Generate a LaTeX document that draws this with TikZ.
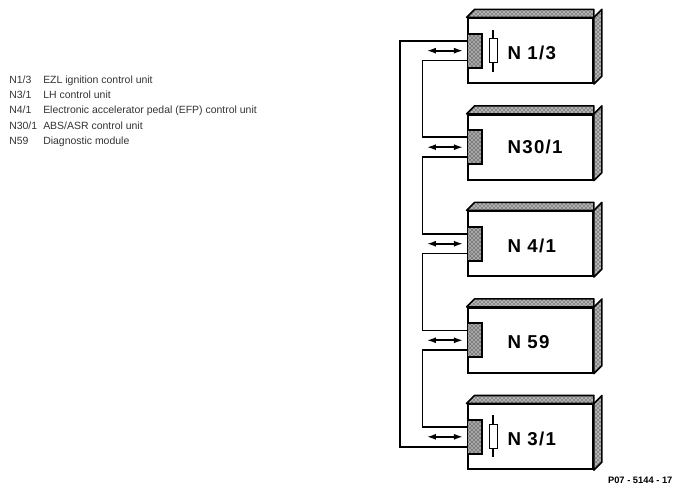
\documentclass[tikz,border=0pt]{standalone}
\usepackage{fontspec}
\setmainfont{Liberation Sans}
\newfontfamily\unitfont[LetterSpace=7]{Liberation Sans}
\usepackage{tikz}
\usetikzlibrary{arrows.meta, positioning, calc, patterns}

\begin{document}
\begin{tikzpicture}[
  unit/.style={draw, line width=1.5pt, minimum width=94pt, minimum height=48.5pt, inner sep=0pt},
  port/.style={draw, line width=1.4pt, minimum width=11pt, minimum height=25.5pt, inner sep=0pt, anchor=west, preaction={fill=black!35}, pattern=crosshatch dots, pattern color=black},
  shell/.style={draw, line width=1.2pt, preaction={fill=black!30}, pattern=crosshatch dots, pattern color=black, line join=round},
  resistor/.style={draw, line width=0.9pt, minimum width=6pt, minimum height=18pt, inner sep=0pt},
  unitlabel/.style={anchor=west, inner sep=0pt, font=\unitfont\bfseries\fontsize{14}{14}\selectfont},
  wire/.style={line width=1.2pt},
  bus/.style={{Latex[length=7pt,width=4.5pt]}-{Latex[length=7pt,width=4.5pt]}, line width=1.6pt},
  legend/.style={anchor=base west, inner sep=0pt, font=\fontsize{7.85}{7.85}\selectfont, text=black!80},
  node distance=22.4pt
]
\useasboundingbox (0,0) rectangle (510.75pt,-370.5pt);
% control units
\node[unit] (N13) at (397.7pt,-38pt) {};
\node[unit, below=of N13] (N30) {};
\node[unit, below=of N30] (N41) {};
\node[unit, below=of N41] (N59) {};
\node[unit, below=of N59] (N31) {};
\foreach \u in {N13,N30,N41,N59,N31} {
  \draw[shell] (\u.north west) -- ++(6pt,6pt) -| ($(\u.north east)+(0,0)$) -- cycle;
  \draw[shell] (\u.north east) -- ++(6pt,6pt) -- ($(\u.south east)+(6pt,6pt)$) -- (\u.south east) -- cycle;
}
% connector blocks
\node[port] (portA) at (N13.west) {};
\node[port] (portB) at (N30.west) {};
\node[port] (portC) at (N41.west) {};
\node[port] (portD) at (N59.west) {};
\node[port] (portE) at (N31.west) {};
% resistors
\node[resistor, right=20pt of N13.west, anchor=center] (resA) {};
\node[resistor, right=20pt of N31.west, anchor=center] (resE) {};
\draw[wire] (resA.north) -- ++(0,6pt);
\draw[wire] (resA.south) -- ++(0,-6.5pt);
\draw[wire] (resE.north) -- ++(0,7pt);
\draw[wire] (resE.south) -- ++(0,-6pt);
% labels
\node[unitlabel, right=30.5pt of N13.west, anchor=west, yshift=-1.5pt] (labelA) {N 1/3};
\node[unitlabel, right=30.5pt of N30.west, anchor=west] (labelB) {N30/1};
\node[unitlabel, right=30.5pt of N41.west, anchor=west, yshift=-2pt] (labelC) {N 4/1};
\node[unitlabel, right=30.5pt of N59.west, anchor=west, yshift=-1.5pt] (labelD) {N 59};
\node[unitlabel, right=30.5pt of N31.west, anchor=west, yshift=-1.5pt] (labelE) {N 3/1};
% wiring
\draw[wire] ([yshift=-6pt]portA.north west) -- ++(-50pt,0) |- ([yshift=6pt]portE.south west);
\draw[wire] ([yshift=6pt]portA.south west) -- ++(-33pt,0) |- ([yshift=-6pt]portB.north west);
\draw[wire] ([yshift=6pt]portB.south west) -- ++(-33pt,0) |- ([yshift=-6pt]portC.north west);
\draw[wire] ([yshift=6pt]portC.south west) -- ++(-33pt,0) |- ([yshift=-6pt]portD.north west);
\draw[wire] ([yshift=6pt]portD.south west) -- ++(-33pt,0) |- ([yshift=-6pt]portE.north west);
% bidirectional arrows
\coordinate[left=30pt of portA.west] (busA);
\coordinate[left=30pt of portB.west] (busB);
\coordinate[left=30pt of portC.west] (busC);
\coordinate[left=30pt of portD.west] (busD);
\coordinate[left=30pt of portE.west] (busE);
\draw[bus, shorten >=2.5pt] (busA) -- (portA.west);
\draw[bus, shorten >=2.5pt] (busB) -- (portB.west);
\draw[bus, shorten >=2.5pt] (busC) -- (portC.west);
\draw[bus, shorten >=2.5pt] (busD) -- (portD.west);
\draw[bus, shorten >=2.5pt] (busE) -- (portE.west);
% key
\node[legend] (codeA) at (6.75pt,-62.3pt) {N1/3};
\node[legend] (codeB) at (6.75pt,-74pt) {N3/1};
\node[legend] (codeC) at (6.75pt,-85pt) {N4/1};
\node[legend] (codeD) at (6.75pt,-97pt) {N30/1};
\node[legend] (codeE) at (6.75pt,-108.3pt) {N59};
\node[legend] (textA) at (32.25pt,-62.3pt) {EZL ignition control unit};
\node[legend] (textB) at (32.25pt,-74pt) {LH control unit};
\node[legend] (textC) at (32.25pt,-85pt) {Electronic accelerator pedal (EFP) control unit};
\node[legend] (textD) at (32.25pt,-97pt) {ABS/ASR control unit};
\node[legend] (textE) at (32.25pt,-108.3pt) {Diagnostic module};
\node[anchor=east, inner sep=0pt, font=\bfseries\fontsize{7}{7}\selectfont] (ref) at (504.5pt,-360.5pt) {P07 - 5144 - 17};
\end{tikzpicture}
\end{document}
